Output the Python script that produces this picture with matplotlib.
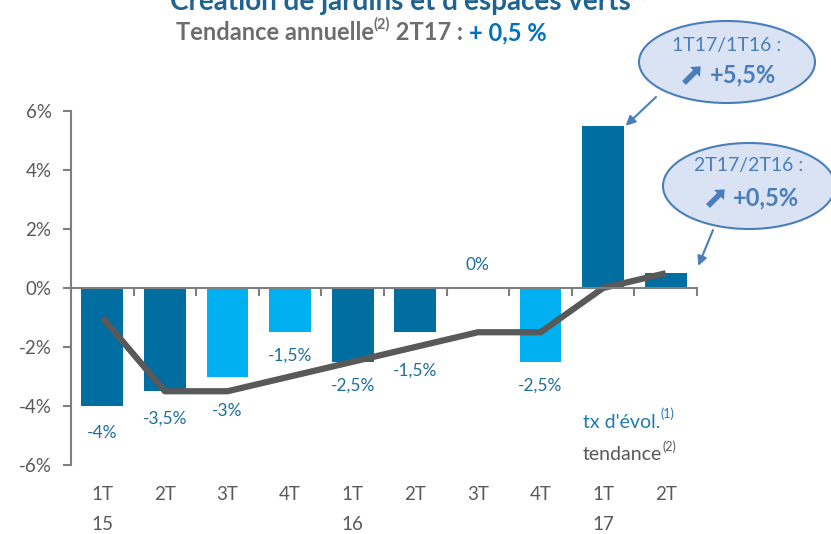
import matplotlib
matplotlib.use("Agg")
import matplotlib.pyplot as plt
from matplotlib.patches import Ellipse, FancyArrow

plt.rcParams['font.family'] = ['Lato', 'DejaVu Sans']

quarters = ["1T", "2T", "3T", "4T", "1T", "2T", "3T", "4T", "1T", "2T"]
years = ["15", "", "", "", "16", "", "", "", "17", ""]
evol = [-4, -3.5, -3, -1.5, -2.5, -1.5, 0, -2.5, 5.5, 0.5]
tendance = [-1, -3.5, -3.5, -3, -2.5, -2, -1.5, -1.5, 0, 0.5]
bar_labels = ["-4%", "-3,5%", "-3%", "-1,5%", "-2,5%", "-1,5%", "0%", "-2,5%", "", ""]
yticks = [-6, -4, -2, 0, 2, 4, 6]

DARK = "#006ea0"
LIGHT = "#00b0f0"
bar_colors = [DARK, DARK, LIGHT, LIGHT, DARK, DARK, DARK, LIGHT, DARK, DARK]
label_offsets = [-27, -27, -34, -23, -24, -38, 23, -24, 0, 0]  # pixels from bar end

W, H = 831, 534
fig = plt.figure(figsize=(W / 100, H / 100), dpi=100)
ax = fig.add_axes([71 / W, (H - 465) / H, (697 - 71) / W, (465 - 111) / H])

x = list(range(len(evol)))
ax.bar(x, evol, width=0.67, color=bar_colors, zorder=2)
ax.plot(x, tendance, color="#595959", lw=4.5, zorder=3, solid_capstyle='butt')

ax.set_xlim(-0.5, 9.5)
ax.set_ylim(-6, 6)
ax.set_yticks(yticks)
ax.set_yticklabels([f"{v}%" for v in yticks], color="#595959", fontsize=13.5)
ax.tick_params(axis='y', length=6, width=1.5, color="#7f7f7f", pad=8)
ax.spines['top'].set_visible(False)
ax.spines['right'].set_visible(False)
ax.spines['left'].set_color("#7f7f7f")
ax.spines['left'].set_linewidth(1.5)
ax.spines['bottom'].set_position(('data', 0))
ax.spines['bottom'].set_color("#7f7f7f")
ax.spines['bottom'].set_linewidth(1.5)
ax.spines['bottom'].set_zorder(4)
ax.set_xticks([i + 0.5 for i in range(len(evol))])
ax.set_xticklabels([])
ax.tick_params(axis='x', length=6, width=1.5, color="#7f7f7f", direction='out')

for i, (v, lab) in enumerate(zip(evol, bar_labels)):
    if lab:
        ax.annotate(lab, (i, v), xytext=(0, label_offsets[i] * 0.72), textcoords='offset points',
                    ha='center', va='center', color="#1f6f9a", fontsize=12.5)

for i, (q, yv) in enumerate(zip(quarters, years)):
    ax.annotate(q, (i, -6), xytext=(0, -30 * 0.72), textcoords='offset points',
                ha='center', va='center', fontsize=13.5, color="#595959")
    if yv:
        ax.annotate(yv, (i, -6), xytext=(0, -60 * 0.72), textcoords='offset points',
                    ha='center', va='center', fontsize=13.5, color="#595959")

# overlay for annotations in pixel space
ov = fig.add_axes([0, 0, 1, 1], zorder=10)
ov.set_xlim(0, W)
ov.set_ylim(H, 0)
ov.axis('off')
ov.patch.set_alpha(0)

# title (cut off at top, as in the reference)
tt = ov.text(170, 2, "Création de jardins et d'espaces verts", ha='left', va='center',
             fontsize=20, fontweight='bold', color="#1f6391")
ov.annotate("(1)", xy=(1, 0.55), xycoords=tt, ha='left', va='bottom', fontsize=11,
            fontweight='bold', color="#1f6391", annotation_clip=False)

# subtitle pieces
t1 = ov.text(176, 33, "Tendance annuelle", ha='left', va='center', fontsize=17,
             fontweight='bold', color="#6d6d6d")
t2 = ov.annotate("(2)", xy=(1, 0.55), xycoords=t1, va='bottom', ha='left',
                 fontsize=10.5, fontweight='bold', color="#6d6d6d")
t3 = ov.annotate(" 2T17 : ", xy=(1, 0), xycoords=(t2, t1),
                 va='bottom', ha='left', fontsize=17, fontweight='bold', color="#6d6d6d")
t4 = ov.annotate("+ 0,5 %", xy=(1, 0), xycoords=t3, va='bottom', ha='left',
                 fontsize=17, fontweight='bold', color="#0070c0")

EFILL = "#dae3f3"
EEDGE = "#4a7ebb"
ov.add_patch(Ellipse((727, 62), 176, 82, facecolor=EFILL, edgecolor=EEDGE, lw=1.5))
ov.add_patch(Ellipse((749, 186), 172, 86, facecolor=EFILL, edgecolor=EEDGE, lw=1.5))
ov.text(727, 46, "1T17/1T16 :", ha='center', va='center', fontsize=14, color=EEDGE)
ov.text(710, 75, "+5,5%", ha='left', va='center', fontsize=17, fontweight='bold', color=EEDGE)
ov.text(749, 165, "2T17/2T16 :", ha='center', va='center', fontsize=14, color=EEDGE)
ov.text(733, 198, "+0,5%", ha='left', va='center', fontsize=17, fontweight='bold', color=EEDGE)
ov.add_patch(FancyArrow(684, 83, 11, -11, width=5.5, head_width=14, head_length=8,
                        length_includes_head=False, color=EEDGE, lw=0))
ov.add_patch(FancyArrow(708, 206, 11, -11, width=5.5, head_width=14, head_length=8,
                        length_includes_head=False, color=EEDGE, lw=0))

ov.annotate("", xy=(8.36, 5.5), xycoords=ax.transData, xytext=(656, 97), textcoords='data',
            arrowprops=dict(arrowstyle='-|>', color=EEDGE, lw=1.5, mutation_scale=14,
                            shrinkA=0, shrinkB=0))
ov.annotate("", xy=(9.52, 0.75), xycoords=ax.transData, xytext=(713, 230), textcoords='data',
            arrowprops=dict(arrowstyle='-|>', color=EEDGE, lw=1.5, mutation_scale=14,
                            shrinkA=0, shrinkB=0))

# legend texts
l1 = ov.text(583, 422, "tx d'évol.", ha='left', va='center', fontsize=14, color="#1f7ab0")
ov.annotate("(1)", xy=(1, 0.6), xycoords=l1, ha='left', va='bottom', fontsize=9, color="#1f7ab0")
l2 = ov.text(583, 455, "tendance", ha='left', va='center', fontsize=14, color="#595959")
ov.annotate("(2)", xy=(1, 0.6), xycoords=l2, ha='left', va='bottom', fontsize=9, color="#595959")

fig.savefig("out.png", dpi=100)
